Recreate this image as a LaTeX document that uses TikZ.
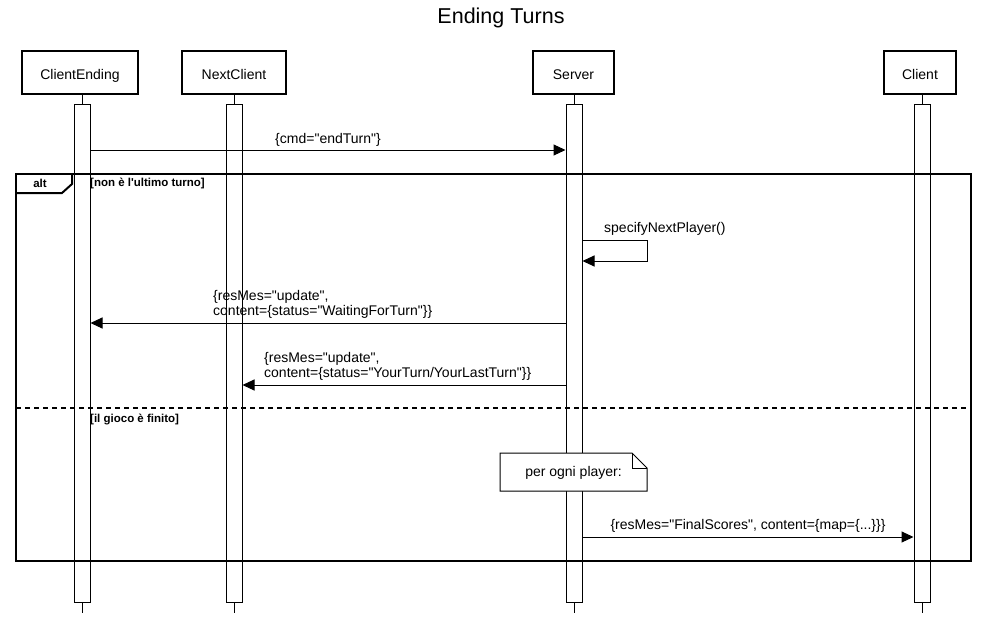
\documentclass[tikz,border=0pt]{standalone}
\usepackage{fontspec}
\setmainfont{Liberation Sans}
\usetikzlibrary{positioning, arrows.meta}
\newcommand{\dq}{\textquotedbl}

\begin{document}
\begin{tikzpicture}[x=1pt, y=-1pt,
        actor/.style={draw, line width=2pt, fill=white, minimum width=#1, minimum height=43pt, inner sep=0pt, text height=13pt, text depth=0pt},
        bar/.style={draw, line width=1pt, fill=white, minimum width=16pt, minimum height=498pt, inner sep=0pt},
        msg/.style={line width=1pt, -{Triangle[length=12pt, width=11pt]}},
        lbl/.style={inner sep=0pt, align=left},
        guard/.style={inner sep=0pt, anchor=west, font=\bfseries\fontsize{11.5}{13}\selectfont},
        every node/.style={font=\fontsize{14}{15.5}\selectfont}]
        \useasboundingbox (0, 0) rectangle (1003, 618);
        \node (title) at (501, 18) {\fontsize{21.5}{24}\selectfont Ending Turns};
        % partecipanti
        \node[actor=116pt] (ce) at (80, 72.5) {ClientEnding};
        \node[actor=104pt] (nc) at (234, 72.5) {NextClient};
        \node[actor=81pt] (sv) at (573.5, 72.5) {Server};
        \node[actor=72pt] (cl) at (920, 72.5) {Client};
        \foreach \p/\x in {ce/82, nc/234, sv/574, cl/922} {
            \node[bar] (\p b) at (\x, 353) {};
            \draw[line width=1pt] (\p b.north) -- (\p b.north |- \p.south);
            \draw[line width=1pt] (\p b.south) -- ++(0, 10);
        }
        % messaggio iniziale
        \draw[msg] (ceb.east |- 0, 150) -- node[lbl, above=3pt] (m1) {\{cmd=\dq endTurn\dq\}} (svb.west |- 0, 150);
        % frame alt
        \draw[line width=2pt] (16, 174) rectangle (971, 561);
        \draw[line width=2pt] (16, 193) -- (62, 193) -- (72, 184) -- (72, 174);
        \node[guard, anchor=center] (alt) at (40, 183) {alt};
        \node[guard] (g1) at (90, 183) {[non è l\textquotesingle ultimo turno]};
        \draw[line width=2pt, dash pattern=on 5pt off 4pt] (16, 408) -- (971, 408);
        \node[guard] (g2) at (90, 419) {[il gioco è finito]};
        % self message
        \coordinate (s1) at (647, 240);
        \coordinate (s2) at (647, 261);
        \draw[msg] (svb.east |- s1) -- (s1) -- (s2) -- (svb.east |- s2);
        \node[lbl, anchor=west] (m2) at (604, 229) {specifyNextPlayer()};
        % update
        \draw[msg] (svb.west |- 0, 323) -- (ceb.east |- 0, 323);
        \node[lbl, anchor=south west] (m3) at (213, 319) {\{resMes=\dq update\dq,\\content=\{status=\dq WaitingForTurn\dq\}\}};
        \draw[msg] (svb.west |- 0, 385) -- (ncb.east |- 0, 385);
        \node[lbl, anchor=south west] (m4) at (264, 381) {\{resMes=\dq update\dq,\\content=\{status=\dq YourTurn/YourLastTurn\dq\}\}};
        % nota
        \draw[line width=1pt, fill=white] (500, 453) -- (632, 453) -- (647, 468) -- (647, 491) -- (500, 491) -- cycle;
        \draw[line width=1pt] (632, 453) -- (632, 468) -- (647, 468);
        \node[lbl] (note) at (573.5, 473) {per ogni player:};
        % punteggi finali
        \draw[msg] (svb.east |- 0, 537) -- node[lbl, above=4pt] (m5) {\{resMes=\dq FinalScores\dq, content=\{map=\{...\}\}\}} (clb.west |- 0, 537);
    \end{tikzpicture}
\end{document}
